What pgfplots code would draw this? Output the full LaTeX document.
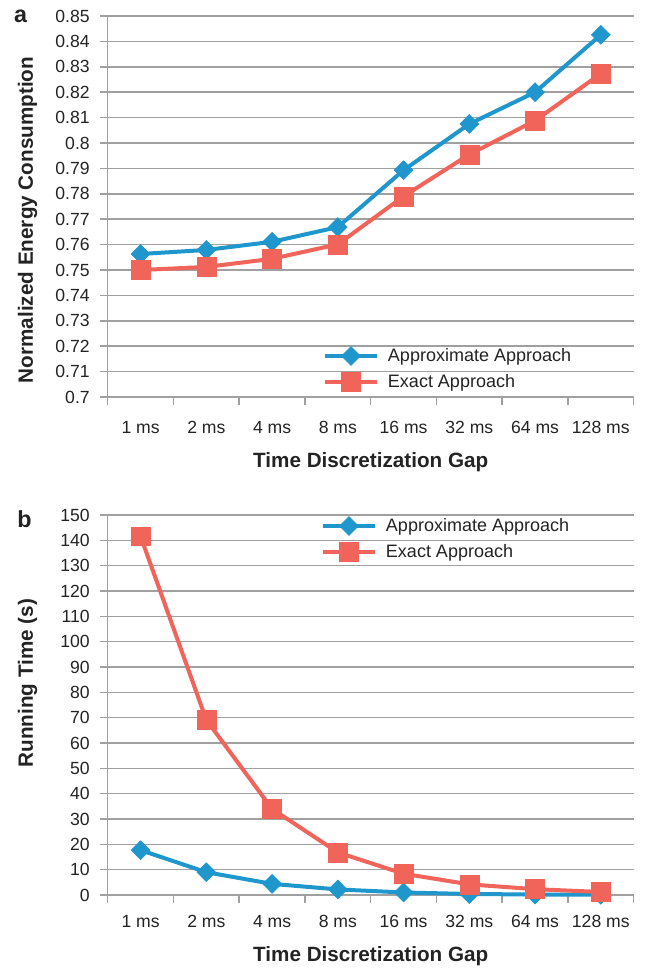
\documentclass[border=0pt]{standalone}
\usepackage{pgfplots}
\pgfplotsset{compat=1.18}
\usepackage{fontspec}
\setmainfont{Liberation Sans}
\definecolor{cblue}{RGB}{31,150,204}
\definecolor{cred}{RGB}{240,100,90}
\definecolor{cgrid}{RGB}{160,160,160}
\definecolor{ctext}{RGB}{35,35,35}
\pgfplotsset{
  mystyle/.style={
    scale only axis, width=394.5pt,
    xmin=0.5, xmax=8.5,
    xtick={1,2,3,4,5,6,7,8},
    xticklabels={1 ms,2 ms,4 ms,8 ms,16 ms,32 ms,64 ms,128 ms},
    minor xtick={0.5,1.5,2.5,3.5,4.5,5.5,6.5,7.5,8.5},
    axis x line*=bottom, axis y line*=left,
    axis line style={cgrid, line width=1.1pt, -},
    tick align=outside,
    major tick length=6pt, minor tick length=6pt,
    major x tick style={draw=none},
    minor x tick style={cgrid, line width=1.1pt},
    ytick style={cgrid, line width=1.1pt},
    ymajorgrids, major grid style={cgrid, line width=1.1pt},
    tick label style={font=\fontsize{13.2}{15}\selectfont, text=ctext},
    yticklabel style={anchor=east, inner sep=0pt, xshift=-7.3pt},
    /pgf/number format/assume math mode=true,
    clip=false,
    xlabel={Time Discretization Gap},
    xlabel style={font=\bfseries\fontsize{15.5}{18}\selectfont, text=ctext, anchor=base},
    ylabel style={font=\bfseries\fontsize{15.5}{18}\selectfont, text=ctext, anchor=center},
    legend image code/.code={\draw[mark repeat=2,mark phase=2,#1] plot coordinates {(0pt,0pt) (19.5pt,0pt) (39pt,0pt)};},
    legend style={draw=none, fill=none, inner sep=0pt, outer sep=0pt,
      font=\fontsize{13.5}{16}\selectfont, text=ctext, row sep=5.3pt, column sep=6.75pt,
      nodes={inner sep=0pt}},
    legend cell align=left,
  },
  approx/.style={cblue, line width=3pt, mark=diamond*, mark size=7.1pt, mark options={xscale=1.33, solid, line width=0.4pt}},
  exact/.style={cred, line width=3pt, mark=square*, mark size=7.1pt, mark options={solid, line width=0.4pt}},
}
\begin{document}
\begin{tikzpicture}
\useasboundingbox (-80.775pt,12pt) rectangle (405.225pt,-714pt);
% ---------------- panel a ----------------
\begin{axis}[mystyle,
  at={(0pt,0pt)}, anchor=north west,
  height=285.75pt,
  ymin=0.7, ymax=0.85,
  ytick={0.7,0.71,0.72,0.73,0.74,0.75,0.76,0.77,0.78,0.79,0.8,0.81,0.82,0.83,0.84,0.85},
  yticklabels={0.7,0.71,0.72,0.73,0.74,0.75,0.76,0.77,0.78,0.79,0.8,0.81,0.82,0.83,0.84,0.85},
  xticklabel style={anchor=base, yshift=-21pt},
  xlabel style={at={(axis description cs:0.5,-0.1855)}},
  ylabel={Normalized Energy Consumption},
  ylabel style={at={(axis description cs:-0.1521,0.4646)}},
  legend style={at={(axis description cs:0.4093,0.1325)}, anchor=north west},
]
\addplot[approx] coordinates {(1,0.7563) (2,0.7579) (3,0.7611) (4,0.7669) (5,0.7893) (6,0.8075) (7,0.8200) (8,0.8426)};
\addlegendentry{Approximate Approach}
\addplot[exact] coordinates {(1,0.7500) (2,0.7512) (3,0.7544) (4,0.7601) (5,0.7790) (6,0.7955) (7,0.8088) (8,0.8273)};
\addlegendentry{Exact Approach}
\node[anchor=base west, font=\bfseries\fontsize{17.5}{20}\selectfont, text=ctext, inner sep=0pt] at (axis description cs:-0.1782,0.9825) {a};
\end{axis}
% ---------------- panel b ----------------
\begin{axis}[mystyle,
  at={(0pt,-374.25pt)}, anchor=north west,
  height=285pt,
  ymin=0, ymax=150,
  ytick={0,10,20,30,40,50,60,70,80,90,100,110,120,130,140,150},
  yticklabels={0,10,20,30,40,50,60,70,80,90,100,110,120,130,140,150},
  xticklabel style={anchor=base, yshift=-18.5pt},
  xlabel style={at={(axis description cs:0.5,-0.1737)}},
  ylabel={Running Time (s)},
  ylabel style={at={(axis description cs:-0.1521,0.5579)}},
  legend style={at={(axis description cs:0.4055,0.996)}, anchor=north west},
]
\addplot[approx] coordinates {(1,17.7) (2,9.0) (3,4.4) (4,2.2) (5,1.0) (6,0.4) (7,0.2) (8,0.1)};
\addlegendentry{Approximate Approach}
\addplot[exact] coordinates {(1,141.6) (2,69.1) (3,34.0) (4,16.8) (5,8.4) (6,4.2) (7,2.3) (8,1.2)};
\addlegendentry{Exact Approach}
\node[anchor=base west, font=\bfseries\fontsize{17.5}{20}\selectfont, text=ctext, inner sep=0pt] at (axis description cs:-0.1724,0.9684) {b};
\end{axis}
\end{tikzpicture}
\end{document}
